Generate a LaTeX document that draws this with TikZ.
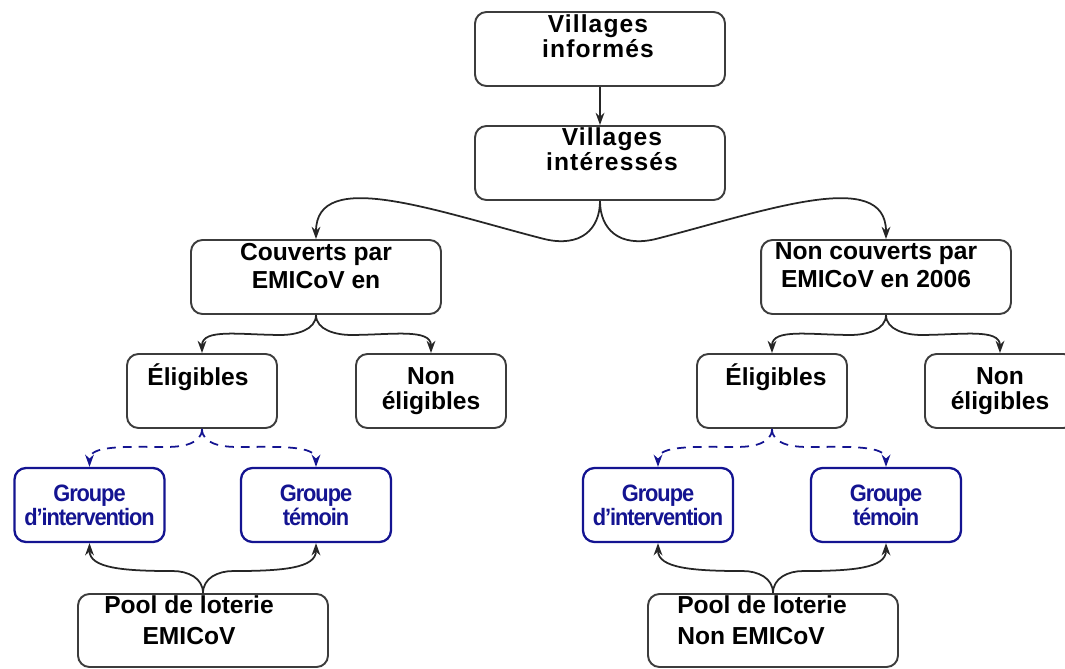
\documentclass[tikz,border=0pt]{standalone}
\usepackage{fontspec}
\setmainfont{Liberation Sans}
\newfontfamily\espace[LetterSpace=4.5]{Liberation Sans}
\newfontfamily\serre[FakeStretch=0.92,LetterSpace=-4.5]{Liberation Sans}
\usetikzlibrary{arrows.meta,positioning}
\definecolor{bleu}{RGB}{20,20,145}
\definecolor{bord}{RGB}{60,60,60}

\tikzset{
  boite/.style={draw=bord, line width=1.1pt, rounded corners=6.5pt, minimum width=5cm, minimum height=1.48cm},
  petite/.style={boite, minimum width=3cm, inner sep=0pt, align=center, font=\bfseries\fontsize{14}{14}\selectfont},
  groupe/.style={petite, draw=bleu, line width=1.3pt, text=bleu, font=\serre\bfseries\fontsize{13.5}{13.6}\selectfont},
  txt/.style={inner sep=0pt, align=center, font=\bfseries\fontsize{14}{16}\selectfont},
  fleche/.style={line width=1pt, draw=black!85, -{Stealth[length=7pt,width=5pt]}},
  pointille/.style={fleche, draw=bleu, dash pattern=on 5pt off 4pt}
}

\begin{document}
\begin{tikzpicture}[x=0.02cm,y=-0.02cm]
	\useasboundingbox (0,0) rectangle (1065,669);

	% villages
	\node[boite] (inf) at (600,49) {};
	\node[txt, font=\espace\bfseries\fontsize{14}{14.2}\selectfont] (infT) at (598,36) {Villages\\informés};
	\node[boite] (int) at (600,163) {};
	\node[txt, font=\espace\bfseries\fontsize{14}{14.2}\selectfont] (intT) at (612,149) {Villages\\intéressés};

	% couverture
	\node[boite] (cov) at (316,277) {};
	\node[txt] (covT) at (316,266) {Couverts par\\EMICoV en};
	\node[boite] (ncov) at (886,277) {};
	\node[txt] (ncovT) at (876,265) {Non couverts par\\EMICoV en 2006};

	% eligibilite
	\node[petite] (eliL) at (202,391) {};
	\node[txt] (eliLT) at (198,377) {Éligibles};
	\node[petite] (neliL) at (431,391) {Non\\éligibles};
	\node[petite] (eliR) at (772,391) {};
	\node[txt] (eliRT) at (776,377) {Éligibles};
	\node[petite] (neliR) at (1000,391) {Non\\éligibles};

	% groupes
	\node[groupe] (grpL1) at (89.5,505) {Groupe\\d’intervention};
	\node[groupe] (grpL2) at (316,505) {Groupe\\témoin};
	\node[groupe] (grpR1) at (658,505) {Groupe\\d’intervention};
	\node[groupe] (grpR2) at (886,505) {Groupe\\témoin};

	% loterie
	\node[boite, minimum height=1.46cm] (poolL) at (203,630.5) {};
	\node[txt, font=\bfseries\fontsize{14}{17.5}\selectfont] (poolLT) at (189,620) {Pool de loterie\\EMICoV};
	\node[boite, minimum height=1.46cm] (poolR) at (773,630.5) {};
	\node[txt, align=left, font=\bfseries\fontsize{14}{17.5}\selectfont] (poolRT) at (762,620) {Pool de loterie\\Non EMICoV};

	\draw[fleche] (inf) -- (int);
	\foreach \cible/\s in {cov/1, ncov/-1}
		\draw[fleche] (int.south) .. controls +(0,28) and +({37*\s},9) .. ++({-56*\s},38) .. controls +({-109*\s},-28) and +(0,-72) .. (\cible.north);
	\foreach \mere/\cible/\s in {cov/eliL/1, cov/neliL/-1, ncov/eliR/1, ncov/neliR/-1}
		\draw[fleche] (\mere.south) .. controls +(0,15) and +({15*\s},0) .. ++({-35*\s},20) .. controls +({-40*\s},0) and +(0,-25) .. (\cible.north);
	\foreach \mere/\cible/\s in {eliL/grpL1/1, eliL/grpL2/-1, eliR/grpR1/1, eliR/grpR2/-1}
		\draw[pointille] (\mere.south) .. controls +(0,15) and +({15*\s},0) .. ++({-35*\s},18) .. controls +({-40*\s},0) and +(0,-22) .. (\cible.north);
	\foreach \mere/\cible/\s in {poolL/grpL1/1, poolL/grpL2/-1, poolR/grpR1/1, poolR/grpR2/-1}
		\draw[fleche] (\mere.north) .. controls +(0,-15) and +({15*\s},0) .. ++({-30*\s},-22) .. controls +({-50*\s},0) and +(0,25) .. (\cible.south);

\end{tikzpicture}
\end{document}
